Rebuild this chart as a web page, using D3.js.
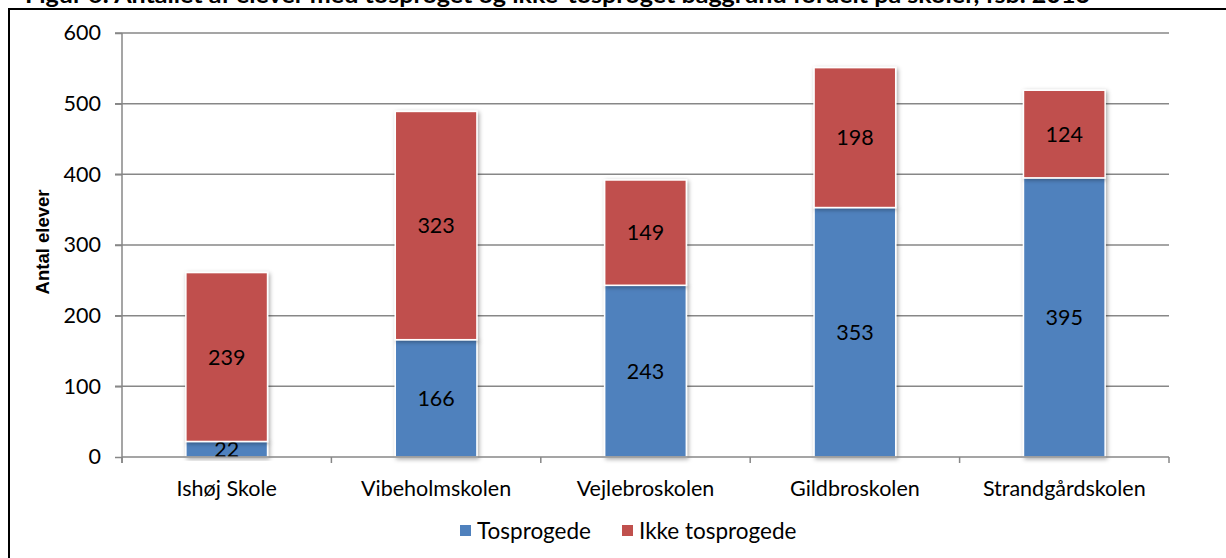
<!DOCTYPE html>
<html>
<head>
<meta charset="utf-8">
<script src="https://cdn.jsdelivr.net/npm/d3@7"></script>
<style>
  body { margin: 0; background: #fff; }
  svg { display: block; }
</style>
</head>
<body>
<script>
// data
const skoler = ['Ishøj Skole', 'Vibeholmskolen', 'Vejlebroskolen', 'Gildbroskolen', 'Strandgårdskolen'];
const tosprogede = [22, 166, 243, 353, 395];
const ikkeTosprogede = [239, 323, 149, 198, 124];
const serier = ['Tosprogede', 'Ikke tosprogede'];
const yTicks = [0, 100, 200, 300, 400, 500, 600];

const W = 1226, H = 558;
const margin = {top: 33, right: 57, bottom: 101, left: 122};
const font = 'Lato, "Open Sans", sans-serif';
const fs = 21.5;
const farver = ['#4F81BD', '#C0504D'];

const svg = d3.select('body').append('svg')
    .attr('width', W)
    .attr('height', H);

// title cut off at the top of the crop
svg.append('text')
    .attr('x', 25).attr('y', 3)
    .attr('font-family', 'Lato, sans-serif')
    .attr('font-weight', 'bold')
    .attr('font-size', 22)
    .attr('textLength', 1065)
    .attr('lengthAdjust', 'spacingAndGlyphs')
    .attr('fill', '#000')
    .text('Figur 6: Antallet af elever med tosproget og ikke-tosproget baggrund fordelt på skoler, fsb. 2013');

// frame
svg.append('path')
    .attr('d', `M9,${H} V9 H${W}`)
    .attr('fill', 'none')
    .attr('stroke', '#000')
    .attr('stroke-width', 2);

const x = d3.scaleBand()
    .domain(skoler)
    .range([margin.left, W - margin.right])
    .paddingInner(0.61)
    .paddingOuter(0.305);

const y = d3.scaleLinear()
    .domain([0, 600])
    .range([H - margin.bottom, margin.top]);

// gridlines
svg.append('g')
    .selectAll('line')
    .data(yTicks.slice(1))
    .join('line')
    .attr('x1', margin.left - 7)
    .attr('x2', W - margin.right)
    .attr('y1', d => y(d))
    .attr('y2', d => y(d))
    .attr('stroke', '#878787')
    .attr('stroke-width', 1.5);

// y axis
const yAxis = svg.append('g')
    .attr('transform', `translate(${margin.left},0)`)
    .call(d3.axisLeft(y).tickValues(yTicks).tickSize(7).tickPadding(14));
yAxis.select('.domain').attr('d', `M0,${margin.top}V${H - margin.bottom + 6}`);
yAxis.selectAll('path, line').attr('stroke', '#878787').attr('stroke-width', 1.5);
yAxis.selectAll('text')
    .attr('font-family', font)
    .attr('font-size', fs)
    .attr('fill', '#000');

// stacked bars
const rows = skoler.map((s, i) => ({skole: s, Tosprogede: tosprogede[i], 'Ikke tosprogede': ikkeTosprogede[i]}));
const stack = d3.stack().keys(serier)(rows);

const defs = svg.append('defs');
const filt = defs.append('filter').attr('id', 'skygge').attr('x', '-20%').attr('y', '-20%').attr('width', '140%').attr('height', '140%');
filt.append('feDropShadow').attr('dx', 1.5).attr('dy', 1.5).attr('stdDeviation', 2).attr('flood-color', '#000').attr('flood-opacity', 0.35);

const groups = svg.append('g')
    .selectAll('g')
    .data(stack)
    .join('g')
    .attr('fill', (d, i) => farver[i]);

groups.selectAll('rect')
    .data(d => d)
    .join('rect')
    .attr('x', d => x(d.data.skole))
    .attr('width', x.bandwidth())
    .attr('y', d => y(d[1]))
    .attr('height', d => y(d[0]) - y(d[1]))
    .attr('stroke', '#fff')
    .attr('stroke-width', 1.5)
    .attr('filter', 'url(#skygge)');

// x axis
const xAxisY = H - margin.bottom;
const xg = svg.append('g').attr('transform', `translate(0,${xAxisY})`);
xg.append('line')
    .attr('x1', margin.left).attr('x2', W - margin.right)
    .attr('stroke', '#878787').attr('stroke-width', 1.5);
xg.selectAll('line.tick')
    .data(d3.range(skoler.length + 1).map(i => margin.left + i * x.step()))
    .join('line')
    .attr('class', 'tick')
    .attr('x1', d => d).attr('x2', d => d)
    .attr('y1', 0).attr('y2', 6)
    .attr('stroke', '#878787').attr('stroke-width', 1.5);
xg.selectAll('text')
    .data(skoler)
    .join('text')
    .attr('x', d => x(d) + x.bandwidth() / 2)
    .attr('y', 39)
    .attr('text-anchor', 'middle')
    .attr('font-family', font)
    .attr('font-size', fs)
    .attr('fill', '#000')
    .text(d => d);

// value labels
groups.selectAll('text')
    .data(d => d)
    .join('text')
    .attr('x', d => x(d.data.skole) + x.bandwidth() / 2)
    .attr('y', d => (y(d[0]) + y(d[1])) / 2)
    .attr('dy', '0.35em')
    .attr('text-anchor', 'middle')
    .attr('font-family', font)
    .attr('font-size', fs)
    .attr('fill', '#000')
    .text(d => d[1] - d[0]);

// y title
svg.append('text')
    .attr('transform', `translate(49,242) rotate(-90)`)
    .attr('text-anchor', 'middle')
    .attr('font-family', '"Liberation Sans", Arial, sans-serif')
    .attr('font-weight', 'bold')
    .attr('font-size', 18.5)
    .attr('fill', '#000')
    .text('Antal elever');

// legend
const legend = svg.append('g').attr('transform', 'translate(460,531)');
const legX = [0, 162];
serier.forEach((s, i) => {
  const g = legend.append('g').attr('transform', `translate(${legX[i]},0)`);
  g.append('rect')
      .attr('x', 0).attr('y', -6)
      .attr('width', 11).attr('height', 11)
      .attr('fill', farver[i]);
  g.append('text')
      .attr('x', 17).attr('y', 0)
      .attr('dy', '0.35em')
      .attr('font-family', font)
      .attr('font-size', 22.5)
      .attr('fill', '#000')
      .text(s);
});
</script>
</body>
</html>
